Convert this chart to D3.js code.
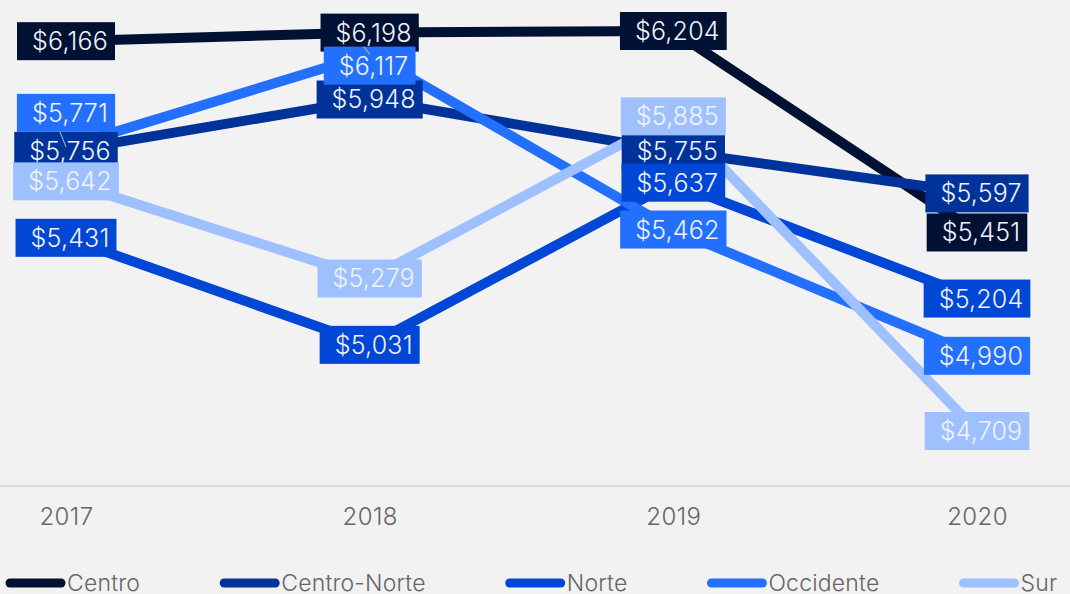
<!DOCTYPE html>
<html lang="en">
<head>
    <meta charset="UTF-8">
    <title>Regiones</title>
    <script src="https://d3js.org/d3.v7.min.js"></script>
    <style>
        body { margin: 0; background: #f2f2f2; }
        svg { display: block; font-family: Inter, "Noto Sans", sans-serif; }
    </style>
</head>
<body>
    <div id="my_dataviz"></div>

    <script>
    // data
    var years = ["2017", "2018", "2019", "2020"];
    var regions = ["Centro", "Centro-Norte", "Norte", "Occidente", "Sur"];
    var centro      = [6166, 6198, 6204, 5451];
    var centroNorte = [5756, 5948, 5755, 5597];
    var norte       = [5431, 5031, 5637, 5204];
    var occidente   = [5771, 6117, 5462, 4990];
    var sur         = [5642, 5279, 5885, 4709];
    var colors = ["#001133", "#003399", "#0047d6", "#2370ff", "#9ec0ff"];

    var seriesValues = [centro, centroNorte, norte, occidente, sur];
    var series = regions.map(function(name, i) {
        return {
            name: name,
            color: colors[i],
            points: years.map(function(yr, j) { return {year: yr, value: seriesValues[i][j]}; })
        };
    });

    var width = 1070, height = 594;

    var svg = d3.select("#my_dataviz")
        .append("svg")
        .attr("width", width)
        .attr("height", height);

    svg.append("rect")
        .attr("width", width)
        .attr("height", height)
        .attr("fill", "#f2f2f2");

    var x = d3.scalePoint()
        .domain(years)
        .range([66, 977]);

    var allValues = d3.merge(seriesValues);
    var y = d3.scaleLinear()
        .domain(d3.extent(allValues))
        .range([431, 31]);

    // x axis: baseline + year labels
    var xAxis = svg.append("g")
        .attr("transform", "translate(0,486)")
        .call(d3.axisBottom(x).tickSize(0).tickPadding(22));
    xAxis.select(".domain").remove();
    xAxis.append("line")
        .attr("x1", 0).attr("x2", width)
        .attr("stroke", "#d9d9d9")
        .attr("stroke-width", 2);
    xAxis.selectAll(".tick text")
        .attr("fill", "#666")
        .style("font-family", "Inter, sans-serif")
        .style("font-size", "24px")
        .style("letter-spacing", "0.4px")
        .style("font-weight", 300);

    // lines
    var line = d3.line()
        .x(function(d) { return x(d.year); })
        .y(function(d) { return y(d.value); });

    svg.append("g").selectAll("path")
        .data(series)
        .enter()
        .append("path")
            .attr("d", function(d) { return line(d.points); })
            .attr("fill", "none")
            .attr("stroke", function(d) { return d.color; })
            .attr("stroke-width", 10);

    // labels: place in series order, nudge away from labels already placed in same column
    var labels = [];
    years.forEach(function(yr, j) {
        var placed = [];
        series.forEach(function(s) {
            var py = y(s.points[j].value);
            var ly = py;
            placed.forEach(function(p) {
                if (Math.abs(ly - p.ly) < 30) {
                    ly = ly < p.ly ? p.ly - 38 : p.ly + 33;
                }
            });
            var lab = {series: s, year: yr, value: s.points[j].value, px: x(yr), py: py, ly: ly};
            placed.push(lab);
            labels.push(lab);
        });
    });

    var fmt = function(v) { return "$" + d3.format(",")(v); };

    var labelG = svg.append("g").selectAll("g")
        .data(labels)
        .enter()
        .append("g")
            .attr("transform", function(d) { return "translate(" + d.px + "," + d.ly + ")"; });

    labelG.append("rect");
    labelG.append("text")
        .attr("x", 4)
        .attr("dy", "0.36em")
        .attr("text-anchor", "middle")
        .attr("fill", "#f0f3fa")
        .style("font-size", "25px")
        .style("letter-spacing", "0.2px")
        .style("font-weight", 300)
        .text(function(d) { return fmt(d.value); });

    labelG.each(function(d) {
        var g = d3.select(this);
        var w = g.select("text").node().getComputedTextLength() + 22;
        g.select("rect")
            .attr("x", -w / 2)
            .attr("y", -19)
            .attr("width", w)
            .attr("height", 38)
            .attr("fill", d.series.color);
    });

    // leader lines for nudged labels
    svg.append("g").selectAll("line")
        .data(labels.filter(function(d) { return Math.abs(d.ly - d.py) > 6; }))
        .enter()
        .append("line")
            .attr("x1", function(d) { return d.px - 6; })
            .attr("y1", function(d) { return d.ly + (d.py > d.ly ? 19 : -19); })
            .attr("x2", function(d) { return d.px; })
            .attr("y2", function(d) { return d.py; })
            .attr("stroke", "#aaa")
            .attr("stroke-width", 1.2);

    // legend
    var legend = svg.append("g").attr("transform", "translate(0,583)");
    var lx = 6;
    series.forEach(function(s) {
        var item = legend.append("g").attr("transform", "translate(" + lx + ",0)");
        item.append("line")
            .attr("x1", 4).attr("x2", 55)
            .attr("stroke", s.color)
            .attr("stroke-width", 9)
            .attr("stroke-linecap", "round");
        var t = item.append("text")
            .attr("x", 61)
            .attr("dy", "0.36em")
            .attr("fill", "#666")
            .style("font-size", "23px")
            .style("letter-spacing", "0.2px")
            .style("font-weight", 300)
            .text(s.name);
        lx += 61 + t.node().getComputedTextLength() + 80;
    });
    </script>
</body>
</html>
